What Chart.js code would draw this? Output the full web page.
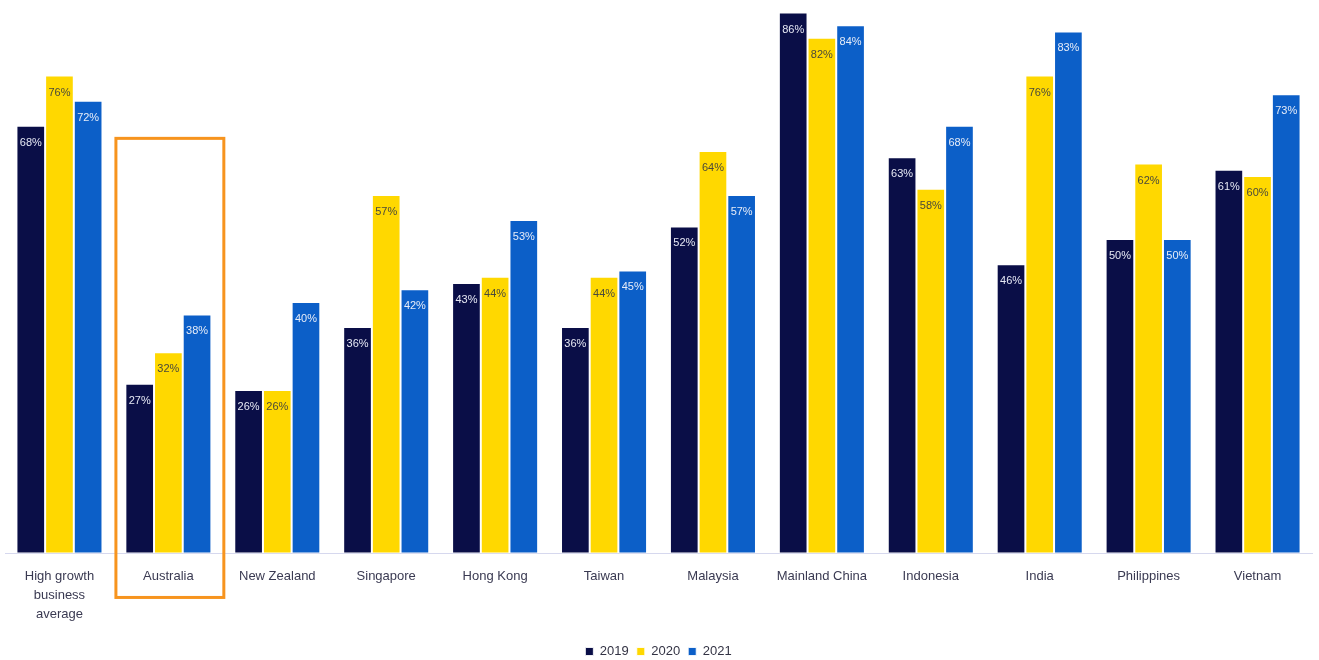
<!DOCTYPE html>
<html>
<head>
<meta charset="utf-8">
<script src="https://cdn.jsdelivr.net/npm/chart.js@4/dist/chart.umd.min.js"></script>
<style>
  html, body { margin: 0; padding: 0; background: #ffffff; }
  #wrap { width: 1319px; height: 660px; position: relative; }
</style>
</head>
<body>
<div id="wrap"><canvas id="chart"></canvas></div>
<script>
// Markets surveyed
const categories = [
  ['High growth', 'business', 'average'],
  'Australia', 'New Zealand', 'Singapore', 'Hong Kong', 'Taiwan',
  'Malaysia', 'Mainland China', 'Indonesia', 'India', 'Philippines', 'Vietnam'
];

// Share of respondents (%) per year
const values2019 = [68, 27, 26, 36, 43, 36, 52, 86, 63, 46, 50, 61];
const values2020 = [76, 32, 26, 57, 44, 44, 64, 82, 58, 76, 62, 60];
const values2021 = [72, 38, 40, 42, 53, 45, 57, 84, 68, 83, 50, 73];

const seriesLabels = ['2019', '2020', '2021'];
const highlightedCategory = 1; // Australia

const colors = ['#0a0e47', '#ffd800', '#0c5fc8'];
const labelColors = ['#e6e8f4', '#4a4a3a', '#e6ecf8'];

// Keeps the bottom legend band compact so it sits close to the canvas edge
const compactLegend = {
  id: 'compactLegend',
  beforeInit(chart) {
    const legend = chart.legend;
    if (!legend) return;
    const fit = legend.fit;
    legend.fit = function () {
      fit.call(this);
      this.height = 23;
    };
  }
};

// Writes each bar's value just inside its top edge
const valueLabels = {
  id: 'valueLabels',
  afterDatasetsDraw(chart) {
    const ctx = chart.ctx;
    ctx.save();
    ctx.font = '11px "Liberation Sans Narrow", "Arial Narrow", Arial, sans-serif';
    ctx.textAlign = 'center';
    ctx.textBaseline = 'middle';
    chart.data.datasets.forEach((ds, di) => {
      const meta = chart.getDatasetMeta(di);
      meta.data.forEach((bar, i) => {
        ctx.fillStyle = labelColors[di];
        ctx.fillText(ds.data[i] + '%', bar.x, bar.y + 17);
      });
    });
    ctx.restore();
  }
};

// Orange frame around the highlighted market, reaching down over its axis label
const highlightFrame = {
  id: 'highlightFrame',
  afterDraw(chart) {
    const x = chart.scales.x, y = chart.scales.y;
    const step = x.width / categories.length;
    const cx = x.getPixelForValue(highlightedCategory);
    const left = cx - step / 2 + 2;
    const right = cx + step / 2 + 1;
    const top = y.getPixelForValue(66);
    const bottom = chart.chartArea.bottom + 44;
    const ctx = chart.ctx;
    ctx.save();
    ctx.strokeStyle = '#f7941e';
    ctx.lineWidth = 3;
    ctx.strokeRect(left, top, right - left, bottom - top);
    ctx.restore();
  }
};

const makeSet = (label, data, i) => ({
  label,
  data,
  backgroundColor: colors[i],
  borderColor: 'rgba(255,255,255,0.85)',
  borderWidth: 1,
  borderSkipped: false,
  categoryPercentage: 0.79,
  barPercentage: 1.0
});

new Chart(document.getElementById('chart'), {
  type: 'bar',
  data: {
    labels: categories,
    datasets: [
      makeSet(seriesLabels[0], values2019, 0),
      makeSet(seriesLabels[1], values2020, 1),
      makeSet(seriesLabels[2], values2021, 2)
    ]
  },
  options: {
    responsive: true,
    maintainAspectRatio: false,
    animation: false,
    layout: { padding: { left: 5, right: 7, top: 0, bottom: 0 } },
    plugins: {
      legend: {
        position: 'bottom',
        labels: {
          boxWidth: 8,
          boxHeight: 8,
          padding: 8,
          color: '#333344',
          font: { size: 13, family: 'Arial, "Liberation Sans", sans-serif' }
        }
      },
      tooltip: { enabled: false }
    },
    scales: {
      x: {
        grid: { display: false },
        border: { display: true, color: '#d6d8ee', width: 1 },
        afterFit(scale) { scale.height += 7; },
        ticks: {
          color: '#3a3a52',
          padding: 6,
          maxRotation: 0,
          autoSkip: false,
          font: { size: 13, family: 'Arial, "Liberation Sans", sans-serif', lineHeight: 1.45 }
        }
      },
      y: {
        display: false,
        min: 0,
        max: 88
      }
    }
  },
  plugins: [compactLegend, valueLabels, highlightFrame]
});
</script>
</body>
</html>
